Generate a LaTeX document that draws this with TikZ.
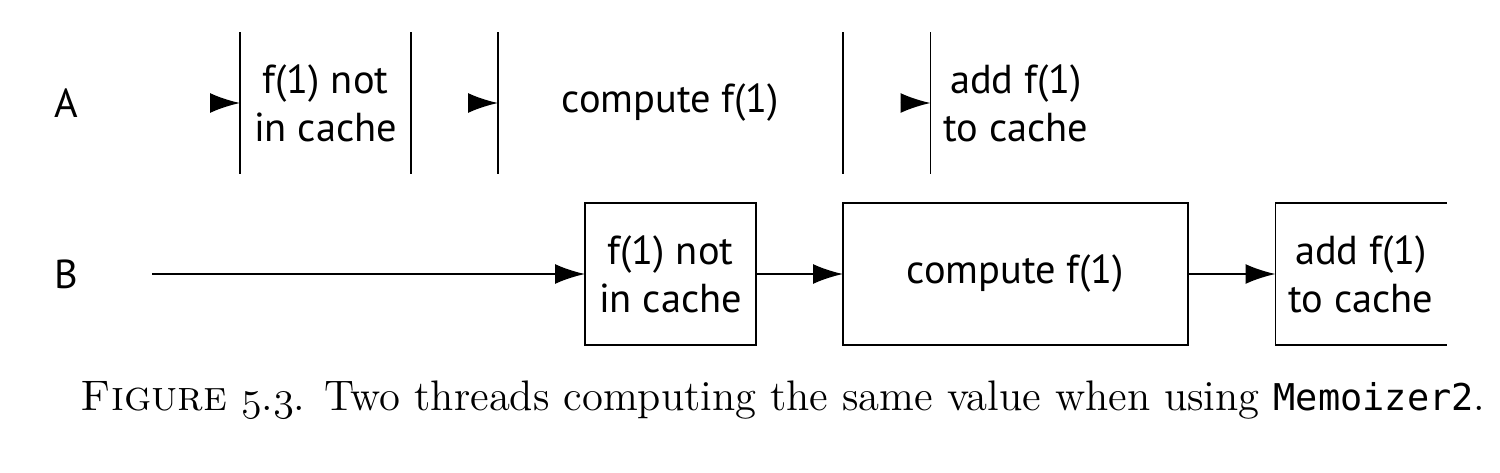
\documentclass[tikz,border=0pt]{standalone}
\usepackage{fontspec}
\newfontfamily\ptsans{PT Sans}
\setmonofont{DejaVu Sans Mono}
\usepackage{tikz}
\usetikzlibrary{arrows.meta}

\begin{document}
\begin{tikzpicture}
    [   > = {Latex[length=3mm,width=2mm]}
    ,   line width = 0.55pt
    ,   stepbox/.style =
        {   align = center
        ,   inner sep = 0mm
        ,   outer sep = 0mm
        ,   minimum height = 14.2mm
        ,   font = \ptsans\fontsize{11.5pt}{13.6pt}\selectfont
        }
    ,   shortbox/.style = {stepbox, minimum width = 17.1mm}
    ,   longbox/.style = {stepbox, minimum width = 34.5mm}
    ,   thread/.style = {font = \ptsans\fontsize{11.5pt}{13.6pt}\selectfont}
    ]
    \useasboundingbox (0mm,0mm) rectangle (150mm,47.2mm);
    % the two threads, B runs one step behind A
    \foreach\r/\s/\y in {A/0/36.9,B/34.5/19.8}
    {   \node[thread] (L\r) at (6.6mm,\y mm) {\r};
        \node[shortbox] (\r1) at (32.55mm+\s mm,\y mm) {f(1) not\\in cache};
        \node[longbox]  (\r2) at (67.05mm+\s mm,\y mm) {compute f(1)};
        \node[shortbox] (\r3) at (101.6mm+\s mm,\y mm) {add f(1)\\to cache};
    }
    % thread A: only the sides and the tips show
    \foreach\n in {1,2}
    {   \draw (A\n.north west) -- (A\n.south west);
        \draw (A\n.north east) -- (A\n.south east);
    }
    \draw (A3.north west) -- (A3.south west);
    \foreach\n in {1,2,3}
    {   \draw[->] ([xshift=-3mm]A\n.west) -- (A\n.west);
    }
    % thread B
    \draw (B1.north west) rectangle (B1.south east);
    \draw (B2.north west) rectangle (B2.south east);
    \draw (B3.north east) -- (B3.north west) -- (B3.south west) -- (B3.south east);
    \coordinate (Bstart) at (15.2mm,19.8mm);
    \draw[->] (Bstart) -- (B1);
    \draw[->] (B1) -- (B2);
    \draw[->] (B2) -- (B3);
    % caption
    \node[anchor=base] (cap) at (78.3mm,6.2mm)
        {\fontsize{12.15pt}{14pt}\selectfont\textsc{Figure} $\mathnormal{5}$.$\mathnormal{3}$. Two threads computing the same value when using {\fontsize{10.5pt}{14pt}\selectfont\texttt{Memoizer2}}.};
\end{tikzpicture}
\end{document}
